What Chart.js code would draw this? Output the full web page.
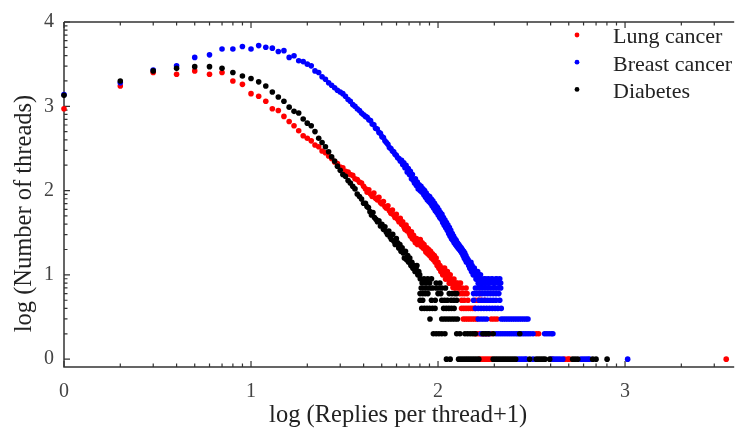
<!DOCTYPE html>
<html><head><meta charset="utf-8">
<script src="https://cdn.jsdelivr.net/npm/chart.js@4.4.0/dist/chart.umd.min.js"></script>
<style>html,body{margin:0;padding:0;background:#fff;}canvas{display:block;}</style>
</head><body>
<canvas id="c" width="735" height="434"></canvas>
<script>
const SERIES_NAMES = ['Lung cancer', 'Breast cancer', 'Diabetes'];
const SERIES_COLORS = ['#ff0000', '#0000ff', '#000000'];
const X_TITLE = 'log (Replies per thread+1)';
const Y_TITLE = 'log (Number of threads)';
const X_TICKS = [0, 1, 2, 3];
const Y_TICKS = [0, 1, 2, 3, 4];
const X_RANGE = [0, 3.573];
const Y_RANGE = [-0.093, 4];
const FONT = '"Liberation Serif", "Times New Roman", serif';

// log(replies+1) for the first 40 thread sizes (shared x of the smooth head)
const mainX = [0, 0.301, 0.477, 0.602, 0.699, 0.778, 0.845, 0.903, 0.954, 1.000, 1.041, 1.079, 1.114, 1.146, 1.176, 1.204, 1.230, 1.255, 1.279, 1.301, 1.322, 1.342, 1.362, 1.380, 1.398, 1.415, 1.431, 1.447, 1.462, 1.477, 1.491, 1.505, 1.519, 1.531, 1.544, 1.556, 1.568, 1.580, 1.591, 1.602];

const lungMainY = [2.97, 3.24, 3.40, 3.38, 3.42, 3.38, 3.40, 3.30, 3.26, 3.15, 3.12, 3.06, 2.97, 2.95, 2.88, 2.82, 2.77, 2.71, 2.65, 2.62, 2.59, 2.54, 2.52, 2.47, 2.45, 2.41, 2.38, 2.34, 2.32, 2.28, 2.27, 2.23, 2.22, 2.19, 2.18, 2.14, 2.13, 2.10, 2.09, 2.05];
const breastMainY = [3.14, 3.28, 3.43, 3.48, 3.58, 3.61, 3.68, 3.68, 3.71, 3.68, 3.72, 3.70, 3.69, 3.65, 3.66, 3.58, 3.60, 3.54, 3.53, 3.50, 3.48, 3.42, 3.40, 3.35, 3.32, 3.28, 3.25, 3.22, 3.19, 3.17, 3.15, 3.12, 3.08, 3.06, 3.02, 3.00, 2.97, 2.95, 2.92, 2.90];
const diabetesMainY = [3.13, 3.30, 3.42, 3.45, 3.47, 3.47, 3.45, 3.40, 3.36, 3.33, 3.29, 3.24, 3.17, 3.11, 3.06, 2.99, 2.94, 2.92, 2.85, 2.80, 2.77, 2.70, 2.62, 2.57, 2.52, 2.46, 2.40, 2.35, 2.29, 2.24, 2.19, 2.17, 2.12, 2.09, 2.05, 2.02, 1.96, 1.93, 1.90, 1.85];

// scattered band beyond the head: [x, y]
const lungBand = [[1.612,2.02],[1.621,1.98],[1.630,2.01],[1.639,1.96],[1.648,1.93],[1.657,1.97],[1.666,1.91],[1.675,1.89],[1.684,1.92],[1.692,1.86],[1.700,1.84],[1.708,1.87],[1.716,1.81],[1.724,1.79],[1.732,1.82],[1.740,1.76],[1.748,1.73],[1.756,1.77],[1.763,1.71],[1.770,1.68],[1.777,1.72],[1.784,1.66],[1.791,1.63],[1.798,1.67],[1.805,1.60],[1.811,1.63],[1.817,1.57],[1.823,1.54],[1.829,1.59],[1.835,1.52],[1.841,1.55],[1.847,1.49],[1.852,1.46],[1.858,1.51],[1.863,1.43],[1.869,1.47],[1.874,1.41],[1.879,1.38],[1.885,1.43],[1.890,1.36],[1.895,1.40],[1.900,1.38],[1.905,1.42],[1.910,1.34],[1.915,1.38],[1.920,1.32],[1.925,1.36],[1.930,1.30],[1.935,1.27],[1.940,1.32],[1.945,1.25],[1.950,1.30],[1.955,1.23],[1.960,1.28],[1.965,1.20],[1.970,1.25],[1.975,1.18],[1.980,1.23],[1.985,1.15],[1.990,1.20],[1.995,1.11],[2.000,1.15],[2.005,1.08],[2.010,1.11],[2.015,1.04],[2.020,1.08],[2.025,1.00],[2.030,1.04],[2.035,1.08],[2.040,0.95],[2.045,1.00],[2.050,1.04],[2.055,0.95],[2.060,0.90],[2.065,1.00],[2.070,0.95],[2.075,0.90],[2.080,0.85],[2.085,0.95],[2.090,0.90],[2.095,0.85],[2.100,0.90],[2.105,0.85],[2.110,0.90],[2.115,0.85]];
const breastBand = [[1.612,2.88],[1.621,2.87],[1.630,2.84],[1.639,2.83],[1.648,2.79],[1.657,2.78],[1.666,2.74],[1.675,2.73],[1.684,2.69],[1.692,2.68],[1.700,2.64],[1.708,2.63],[1.716,2.59],[1.724,2.57],[1.732,2.55],[1.740,2.51],[1.748,2.50],[1.756,2.47],[1.763,2.46],[1.770,2.43],[1.777,2.42],[1.784,2.39],[1.791,2.38],[1.798,2.35],[1.805,2.36],[1.811,2.31],[1.817,2.33],[1.823,2.27],[1.829,2.30],[1.835,2.22],[1.841,2.26],[1.847,2.19],[1.852,2.23],[1.858,2.14],[1.863,2.19],[1.869,2.12],[1.874,2.09],[1.879,2.14],[1.884,2.06],[1.889,2.10],[1.894,2.02],[1.899,2.07],[1.904,2.00],[1.909,2.05],[1.914,1.98],[1.919,2.02],[1.924,1.95],[1.928,2.00],[1.933,1.92],[1.937,1.97],[1.942,1.89],[1.946,1.94],[1.951,1.87],[1.955,1.93],[1.960,1.85],[1.964,1.90],[1.968,1.82],[1.972,1.88],[1.977,1.79],[1.981,1.85],[1.985,1.76],[1.989,1.82],[1.993,1.74],[1.997,1.80],[2.001,1.71],[2.005,1.77],[2.009,1.68],[2.013,1.74],[2.017,1.66],[2.021,1.72],[2.025,1.62],[2.029,1.68],[2.033,1.59],[2.037,1.65],[2.041,1.56],[2.045,1.62],[2.049,1.53],[2.053,1.59],[2.057,1.49],[2.061,1.56],[2.064,1.46],[2.068,1.53],[2.072,1.43],[2.076,1.49],[2.079,1.41],[2.083,1.46],[2.086,1.38],[2.090,1.43],[2.093,1.36],[2.097,1.41],[2.100,1.34],[2.104,1.38],[2.107,1.32],[2.111,1.36],[2.114,1.30],[2.117,1.34],[2.121,1.28],[2.124,1.32],[2.127,1.26],[2.130,1.30],[2.134,1.23],[2.137,1.28],[2.140,1.20],[2.143,1.26],[2.146,1.18],[2.149,1.23],[2.152,1.15],[2.155,1.20],[2.158,1.15],[2.161,1.18],[2.164,1.11],[2.167,1.15],[2.170,1.08],[2.173,1.11],[2.176,1.15],[2.179,1.04],[2.182,1.11],[2.185,1.08],[2.188,1.00],[2.191,1.04],[2.194,1.08],[2.197,1.00],[2.200,1.04],[2.203,0.95],[2.206,1.00],[2.209,0.95],[2.212,1.04],[2.215,0.90],[2.218,1.00],[2.221,0.95],[2.224,0.90],[2.227,1.00],[2.230,0.95],[2.236,0.90],[2.244,0.95],[2.252,0.90],[2.260,0.95],[2.270,0.90],[2.285,0.95],[2.300,0.90],[2.315,0.95],[2.330,0.90]];
const diabetesBand = [[1.612,1.85],[1.620,1.81],[1.628,1.80],[1.636,1.75],[1.644,1.71],[1.652,1.74],[1.660,1.68],[1.668,1.66],[1.676,1.63],[1.684,1.64],[1.692,1.58],[1.700,1.60],[1.708,1.54],[1.716,1.57],[1.723,1.51],[1.730,1.48],[1.737,1.52],[1.744,1.45],[1.751,1.42],[1.758,1.48],[1.764,1.40],[1.771,1.36],[1.777,1.43],[1.784,1.38],[1.790,1.32],[1.796,1.36],[1.802,1.28],[1.808,1.32],[1.814,1.26],[1.820,1.20],[1.826,1.28],[1.832,1.18],[1.838,1.23],[1.843,1.15],[1.849,1.20],[1.855,1.11],[1.860,1.15],[1.866,1.08],[1.871,1.11],[1.877,1.04],[1.882,1.08],[1.887,1.11],[1.892,1.00],[1.897,1.04],[1.902,1.00]];

// sparse tail: rows of equal counts, [log(count), [x positions]]
const lungRows = [
  [0.903, [2.08, 2.10, 2.12]],
  [0.845, [2.09, 2.11, 2.13, 2.15]],
  [0.778, [2.117, 2.130, 2.142, 2.155, 2.225]],
  [0.699, [2.126, 2.140, 2.160, 2.200, 2.215, 2.230, 2.250]],
  [0.602, [2.126, 2.138, 2.150, 2.162, 2.174, 2.186, 2.197]],
  [0.477, [2.135, 2.147, 2.159, 2.171, 2.183, 2.195, 2.207, 2.285, 2.300, 2.315]],
  [0.301, [2.197, 2.209, 2.221, 2.233, 2.245, 2.257, 2.270, 2.284, 2.525, 2.538]],
  [0, [2.224, 2.236, 2.248, 2.260, 2.272, 2.284, 2.610, 2.677, 2.694, 2.703, 3.541]]
];
const breastRows = [
  [0.954, [2.25, 2.27, 2.29, 2.31, 2.33]],
  [0.903, [2.24, 2.26, 2.28, 2.30, 2.32, 2.335]],
  [0.845, [2.200, 2.215, 2.230, 2.245, 2.260, 2.275, 2.290, 2.305, 2.320, 2.335]],
  [0.778, [2.190, 2.205, 2.220, 2.235, 2.250, 2.265, 2.280, 2.295, 2.310, 2.325]],
  [0.699, [2.190, 2.220, 2.235, 2.250, 2.265, 2.280, 2.295, 2.310, 2.330]],
  [0.602, [2.200, 2.215, 2.230, 2.245, 2.260, 2.275, 2.290, 2.305, 2.320, 2.338]],
  [0.477, [2.215, 2.230, 2.245, 2.260, 2.338, 2.350, 2.362, 2.374, 2.386, 2.398, 2.410, 2.422, 2.434, 2.446, 2.458, 2.470, 2.481]],
  [0.301, [2.230, 2.245, 2.260, 2.275, 2.310, 2.322, 2.334, 2.346, 2.358, 2.370, 2.382, 2.394, 2.406, 2.418, 2.428, 2.445, 2.457, 2.469, 2.481, 2.493, 2.508, 2.570, 2.582, 2.594, 2.606, 2.614]],
  [0, [2.428, 2.440, 2.452, 2.464, 2.472, 2.508, 2.605, 2.617, 2.629, 2.641, 2.653, 2.667, 2.764, 2.776, 2.788, 2.800, 2.810, 3.014]]
];
const diabetesRows = [
  [0.954, [1.905, 1.925, 1.945, 1.965]],
  [0.903, [1.915, 1.935, 1.955, 1.990, 2.010]],
  [0.845, [1.910, 1.925, 1.940, 1.955, 1.970, 1.990, 2.005, 2.020, 2.040]],
  [0.778, [1.904, 1.918, 1.932, 1.946, 2.000, 2.015, 2.060, 2.075, 2.090, 2.100]],
  [0.699, [1.904, 1.918, 1.965, 1.985, 2.020, 2.035, 2.050, 2.070, 2.085, 2.100]],
  [0.602, [1.913, 1.927, 1.941, 1.955, 1.970, 1.984, 2.030, 2.044, 2.058, 2.072, 2.086]],
  [0.477, [1.957, 2.020, 2.034, 2.048, 2.062, 2.076, 2.090, 2.104]],
  [0.301, [1.975, 1.990, 2.005, 2.020, 2.037, 2.100, 2.117, 2.144, 2.158, 2.172, 2.186, 2.200, 2.240, 2.255, 2.270, 2.295, 2.437]],
  [0, [2.045, 2.065, 2.110, 2.122, 2.134, 2.146, 2.158, 2.170, 2.182, 2.194, 2.206, 2.218, 2.295, 2.307, 2.319, 2.331, 2.343, 2.355, 2.367, 2.379, 2.391, 2.403, 2.415, 2.490, 2.525, 2.537, 2.549, 2.561, 2.572, 2.597, 2.720, 2.733, 2.747, 2.827, 2.845, 2.904]]
];

function buildPoints(mainY, band, rows) {
  const out = mainY.map((y, i) => ({x: mainX[i], y}));
  band.forEach(([x, y]) => out.push({x, y}));
  rows.forEach(([y, xs]) => xs.forEach(x => out.push({x, y})));
  return out;
}

const seriesData = [
  buildPoints(lungMainY, lungBand, lungRows),
  buildPoints(breastMainY, breastBand, breastRows),
  buildPoints(diabetesMainY, diabetesBand, diabetesRows)
];
const drawOrder = [2, 1, 0]; // diabetes drawn on top

const Y_TITLE_SHIFT = 19;

const framePlugin = {
  id: 'frameTicks',
  beforeDraw(chart) {
    const s = chart.scales.y;
    if (!s.__shifted) {
      const orig = s.drawTitle;
      s.drawTitle = function () {
        this.ctx.save();
        this.ctx.translate(0, Y_TITLE_SHIFT);
        orig.call(this);
        this.ctx.restore();
      };
      s.__shifted = true;
    }
  },
  beforeDatasetsDraw(chart) {
    const {ctx, chartArea: a, scales: {x, y}} = chart;
    ctx.save();
    ctx.strokeStyle = '#333';
    ctx.lineWidth = 1.5;
    ctx.beginPath();
    ctx.moveTo(a.left, a.top); ctx.lineTo(a.right + 2, a.top);
    ctx.moveTo(a.left, a.top); ctx.lineTo(a.left, a.bottom); ctx.lineTo(a.right + 2, a.bottom);
    ctx.stroke();
    ctx.lineWidth = 1.2;
    ctx.beginPath();
    for (let d = 0; d <= 3; d++) {
      for (let m = 1; m <= 9; m++) {
        const v = d + Math.log10(m);
        if (v < x.min || v > x.max) continue;
        const px = x.getPixelForValue(v);
        const L = m === 1 ? 6 : 3.5;
        ctx.moveTo(px, a.bottom); ctx.lineTo(px, a.bottom - L);
        ctx.moveTo(px, a.top); ctx.lineTo(px, a.top + L);
      }
    }
    for (let d = 0; d <= 4; d++) {
      for (let m = 1; m <= 9; m++) {
        const v = d + Math.log10(m);
        if (v < 0 || v > y.max + 1e-9) continue;
        const py = y.getPixelForValue(v);
        const L = m === 1 ? 6 : 3.5;
        ctx.moveTo(a.left, py); ctx.lineTo(a.left + L, py);
      }
    }
    ctx.stroke();
    ctx.restore();
  },
  afterDraw(chart) {
    const ctx = chart.ctx;
    ctx.save();
    ctx.font = '22px ' + FONT;
    ctx.textBaseline = 'alphabetic';
    ctx.textAlign = 'left';
    SERIES_NAMES.forEach((name, i) => {
      const my = 35 + 27.2 * i;
      ctx.fillStyle = SERIES_COLORS[i];
      ctx.beginPath();
      ctx.arc(577, my, 2.4, 0, Math.PI * 2);
      ctx.fill();
      ctx.fillStyle = '#222';
      ctx.fillText(name, 613, 43.3 + 27.5 * i);
    });
    ctx.restore();
  }
};

new Chart(document.getElementById('c'), {
  type: 'scatter',
  data: {
    datasets: SERIES_NAMES.map((name, i) => ({
      label: name,
      data: seriesData[i],
      backgroundColor: SERIES_COLORS[i],
      borderColor: SERIES_COLORS[i],
      borderWidth: 0,
      pointRadius: 2.8,
      pointHoverRadius: 2.8,
      order: drawOrder[i],
      clip: false
    }))
  },
  options: {
    responsive: false,
    animation: false,
    devicePixelRatio: 1,
    layout: {padding: {top: 15, right: 0, bottom: 0, left: 0}},
    plugins: {legend: {display: false}, tooltip: {enabled: false}},
    scales: {
      x: {
        type: 'linear', position: 'bottom', min: X_RANGE[0], max: X_RANGE[1],
        afterBuildTicks: s => { s.ticks = X_TICKS.map(v => ({value: v})); },
        afterFit: s => { s.height = 67; },
        grid: {display: false, drawTicks: false},
        border: {display: false},
        ticks: {padding: 13, color: '#444', font: {family: FONT, size: 20}, autoSkip: false, maxRotation: 0, callback: v => String(v)},
        title: {display: true, text: X_TITLE, color: '#222', font: {family: FONT, size: 24.5}, padding: {top: 0, bottom: 4}}
      },
      y: {
        type: 'linear', position: 'left', min: Y_RANGE[0], max: Y_RANGE[1],
        afterBuildTicks: s => { s.ticks = Y_TICKS.map(v => ({value: v})); },
        afterFit: s => { s.width = 64; },
        grid: {display: false, drawTicks: false},
        border: {display: false},
        ticks: {padding: 10, color: '#444', font: {family: FONT, size: 20}, autoSkip: false, callback: v => String(v)},
        title: {display: true, text: Y_TITLE, color: '#222', font: {family: FONT, size: 24.5}, padding: {top: 9.5, bottom: 0}}
      }
    }
  },
  plugins: [framePlugin]
});
</script>
</body></html>
